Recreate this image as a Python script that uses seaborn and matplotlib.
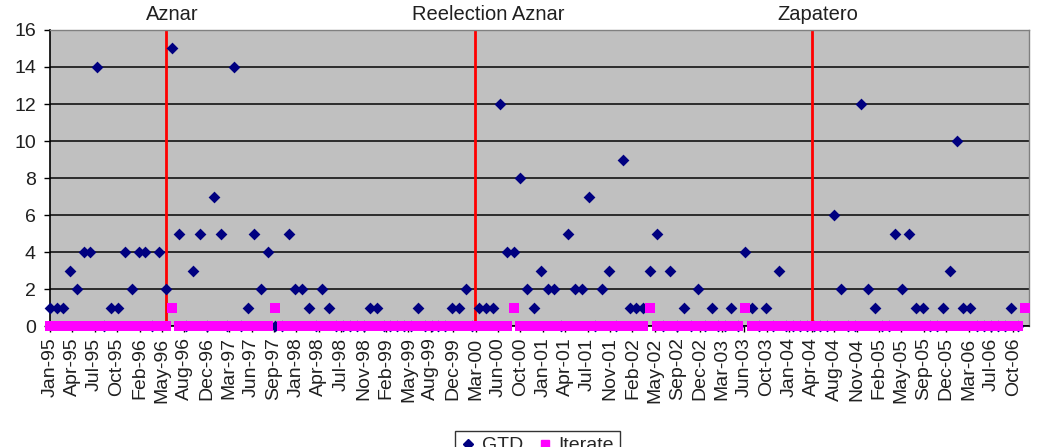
import pandas as pd
import seaborn as sns
import numpy as np
import matplotlib
matplotlib.use("Agg")
import matplotlib.pyplot as plt
import matplotlib.dates as mdates
from matplotlib.lines import Line2D

# data: monthly counts Jan-95 .. Dec-06
months = pd.date_range("1995-01-01", periods=144, freq="MS")

gtd = [1, 1, 1, 3, 2, 4, 4, 14, 0, 1, 1, 4,
       2, 4, 4, 0, 4, 2, 15, 5, 0, 3, 5, 0,
       7, 5, 0, 14, 0, 1, 5, 2, 4, 0, 0, 5,
       2, 2, 1, 0, 2, 1, 0, 0, 0, 0, 0, 1,
       1, 0, 0, 0, 0, 0, 1, 0, 0, 0, 0, 1,
       1, 2, 0, 1, 1, 1, 12, 4, 4, 8, 2, 1,
       3, 2, 2, 0, 5, 2, 2, 7, 0, 2, 3, 0,
       9, 1, 1, 1, 3, 5, 0, 3, 0, 1, 0, 2,
       0, 1, 0, 0, 1, 0, 4, 1, 0, 1, 0, 3,
       0, 0, 0, 0, 0, 0, 0, 6, 2, 0, 0, 12,
       2, 1, 0, 0, 5, 2, 5, 1, 1, 0, 0, 1,
       3, 10, 1, 1, 0, 0, 0, 0, 0, 1, 0, np.nan]

iterate = [0] * 144
for i in [18, 33, 68, 88, 102, 143]:
    iterate[i] = 1

events = ["Aznar", "Reelection Aznar", "Zapatero"]
event_dates = pd.to_datetime(["1996-06-01", "2000-03-12", "2004-04-25"])
event_label_dates = pd.to_datetime(["1996-07-01", "2000-05-10", "2004-05-21"])

# x labels every 100 days, like the original axis
tick_dates = [pd.Timestamp("1995-01-01") + pd.Timedelta(days=100 * k) for k in range(44)]

df = pd.DataFrame({"month": months, "GTD": gtd, "Iterate": iterate})

#make figure
sns.set_style("white")
plt.rcParams["font.family"] = ["Liberation Sans", "DejaVu Sans"]

fig, ax = plt.subplots(figsize=(10.39, 4.47), dpi=100)
navy = "#000080"
magenta = "#FF00FF"

ax.set_facecolor("#C0C0C0")

sns.scatterplot(data=df, x="month", y="GTD", ax=ax, marker="D", color=navy,
                s=36, linewidth=0, clip_on=False, zorder=3)
sns.scatterplot(data=df, x="month", y="Iterate", ax=ax, marker="s", color=magenta,
                s=42, linewidth=0, clip_on=False, zorder=4)

for d in event_dates:
    ax.axvline(d, color="#FF0000", linewidth=2, zorder=2)
for name, d in zip(events, event_label_dates):
    ax.annotate(name, xy=(d, 1), xycoords=("data", "axes fraction"),
                xytext=(0, 11), textcoords="offset points",
                ha="center", va="center", fontsize=14.5, color="#202020")

ax.set_ylim(0, 16)
ax.set_yticks(range(0, 17, 2))
ax.set_xlim(months[0], months[0] + pd.Timedelta(days=int(143.5 * 30.44)))
ax.xaxis.set_major_locator(matplotlib.ticker.FixedLocator(mdates.date2num(tick_dates)))
ax.xaxis.set_major_formatter(mdates.DateFormatter("%b-%y"))
plt.setp(ax.get_xticklabels(), rotation=90, ha="center")

ax.yaxis.grid(True, color="#202020", linewidth=1.3)
ax.xaxis.grid(False)
ax.yaxis.get_gridlines()[-1].set_visible(False)
ax.set_axisbelow(True)

ax.tick_params(axis="both", labelsize=14, direction="out", length=4, width=1,
               color="black", labelcolor="#202020")
ax.tick_params(axis="y", pad=6)
ax.tick_params(axis="x", pad=4)
ax.tick_params(left=True, bottom=True)
ax.set_xlabel("")
ax.set_ylabel("")

for side in ["left", "bottom"]:
    ax.spines[side].set_color("black")
    ax.spines[side].set_linewidth(1.2)
for side in ["top", "right"]:
    ax.spines[side].set_color("#808080")
    ax.spines[side].set_linewidth(1.0)

handles = [Line2D([], [], marker="D", color=navy, linestyle="", markersize=5),
           Line2D([], [], marker="s", color=magenta, linestyle="", markersize=6)]
leg = fig.legend(handles, ["GTD", "Iterate"], loc="upper center",
                 bbox_to_anchor=(0.517, 0.036), ncol=2, fontsize=14,
                 frameon=True, fancybox=False, edgecolor="black",
                 handlelength=0.8, handletextpad=0.3, columnspacing=0.7,
                 borderpad=0.3, borderaxespad=0)
leg.get_frame().set_linewidth(1.0)

plt.subplots_adjust(left=0.048, right=0.990, top=0.933, bottom=0.270)
plt.savefig("out.png", dpi=100)
